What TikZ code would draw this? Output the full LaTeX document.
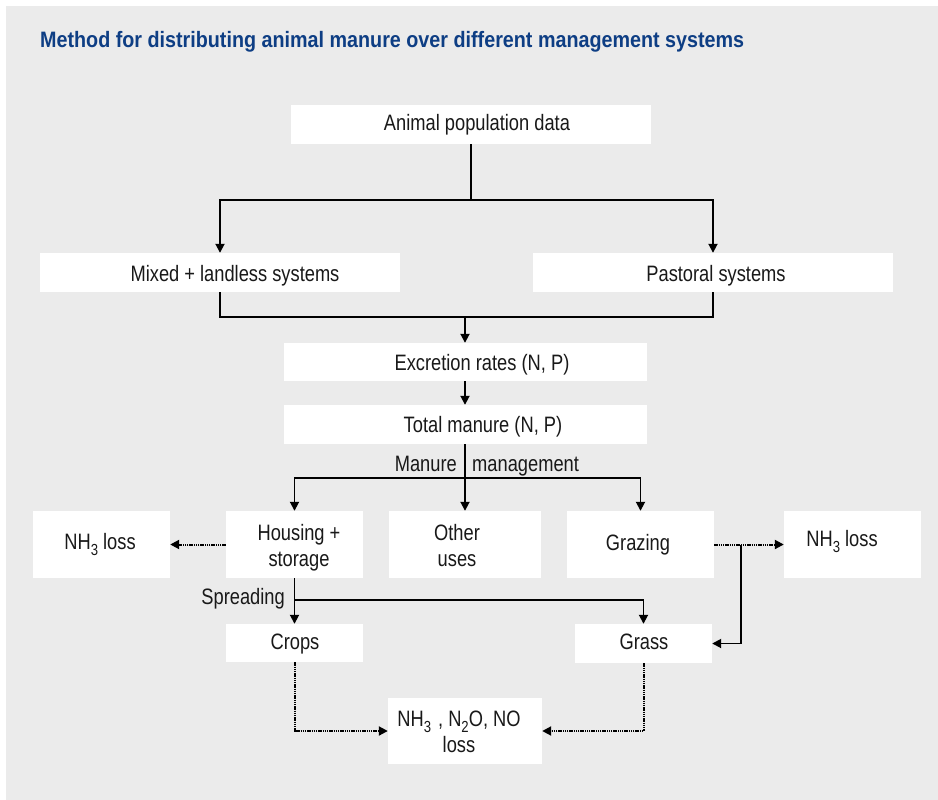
\documentclass[tikz,border=0pt]{standalone}
\usepackage{fontspec}
\setmainfont{Liberation Sans}[FakeStretch=0.82]
\newfontfamily\titlefont{Liberation Sans}[FakeStretch=0.885]
\usetikzlibrary{arrows.meta}
\definecolor{panel}{RGB}{235,235,235}
\definecolor{titleblue}{RGB}{14,62,132}
\definecolor{ink}{RGB}{25,25,25}
% lowered index digits as used in chemical formulas
\newcommand\chemidx[1]{\raisebox{-6pt}{\fontsize{16}{16}\selectfont #1}}

\begin{document}
\begin{tikzpicture}[x=1pt,y=-1pt,
  box/.style={fill=white, inner sep=0pt},
  txt/.style={inner sep=0pt, anchor=base, align=center, font=\fontsize{22.3}{25.5}\selectfont, text=ink},
  link/.style={line width=1.8pt, draw=black},
  arr/.style={link, -{Triangle[length=9pt,width=9pt]}},
  dotarr/.style={line width=2pt, draw=black, dash pattern=on 1.4pt off 0.8pt, -{Triangle[length=9pt,width=9pt]}}]

\useasboundingbox (0,0) rectangle (938,800);
\fill[panel] (6,6) rectangle (938,800);

% title
\node[anchor=base west, inner sep=0pt, font=\titlefont\fontsize{22.3}{26}\selectfont\bfseries, text=titleblue] (title) at (40,48)
  {Method for distributing animal manure over different management systems};

% boxes
\node[box, minimum width=360pt, minimum height=39pt] (apd)   at (471,124.5) {};
\node[box, minimum width=360pt, minimum height=39pt] (mixed) at (220,272.5) {};
\node[box, minimum width=360pt, minimum height=39pt] (past)  at (713,272.5) {};
\node[box, minimum width=363pt, minimum height=38pt] (exc)   at (465,362) {};
\node[box, minimum width=363pt, minimum height=39pt] (tot)   at (465,424.5) {};
\node[box, minimum width=137pt, minimum height=67pt] (nhl)   at (101.5,544.5) {};
\node[box, minimum width=137pt, minimum height=67pt] (hous)  at (294.5,544.5) {};
\node[box, minimum width=152pt, minimum height=67pt] (other) at (465,544.5) {};
\node[box, minimum width=147pt, minimum height=67pt] (graz)  at (640.5,544.5) {};
\node[box, minimum width=137pt, minimum height=67pt] (nhr)   at (852.5,544.5) {};
\node[box, minimum width=137pt, minimum height=38pt] (crops) at (294.5,643) {};
\node[box, minimum width=137pt, minimum height=39pt] (grass) at (643.5,643.5) {};
\node[box, minimum width=154pt, minimum height=66pt] (bot)   at (465,731) {};

% box texts (multi-line texts are placed by the baseline of their last line)
\node[txt] (tapd)   at (477,131) {Animal population data};
\node[txt] (tmixed) at (235,281) {Mixed + landless systems};
\node[txt] (tpast)  at (716,281) {Pastoral systems};
\node[txt] (texc)   at (482,370) {Excretion rates (N, P)};
\node[txt] (ttot)   at (483,432) {Total manure (N, P)};
\node[txt] (tnhl)   at (100,549) {NH\chemidx{3}\ loss};
\node[txt] (thous)  at (299,566) {Housing +\\storage};
\node[txt] (tother) at (457,566) {Other\\uses};
\node[txt] (tgraz)  at (638,550) {Grazing};
\node[txt] (tnhr)   at (842,546) {NH\chemidx{3}\ loss};
\node[txt] (tcrops) at (295,649) {Crops};
\node[txt] (tgrass) at (644,649) {Grass};
\node[txt] (tbot)   at (459,752) {NH\chemidx{3}\hspace{7pt}, N\chemidx{2}O, NO\\loss};

% connector labels
\node[txt, anchor=base east] (lman)  at (457,471) {Manure};
\node[txt, anchor=base west] (lmgmt) at (472,471) {management};
\node[txt, anchor=base east] (lspr)  at (285,604) {Spreading};

% junction points
\coordinate (j1) at (471,200);
\coordinate (j2) at (465,317);
\coordinate (j3) at (465,478);
\coordinate (j4) at (294.5,600);
\coordinate (j5) at (741,544.5);

% connectors
\draw[link] (apd) -- (j1);
\draw[arr] (j1) -| (mixed);
\draw[arr] (j1) -| (past);
\draw[link] (mixed) |- (j2);
\draw[link] (past) |- (j2);
\draw[arr] (j2) -- (exc);
\draw[arr] (exc) -- (tot);
\draw[arr] (tot) -- (other);
\draw[arr] (j3) -| (hous);
\draw[arr] (j3) -| (graz);
\draw[dotarr] (hous) -- (nhl);
\draw[arr] (hous) -- (crops);
\draw[arr] (j4) -| (grass);
\draw[dotarr] (graz) -- (nhr);
\draw[arr] (j5) |- (grass);
\draw[dotarr] (crops) |- (bot);
\draw[dotarr] (grass) |- (bot);
\end{tikzpicture}
\end{document}
